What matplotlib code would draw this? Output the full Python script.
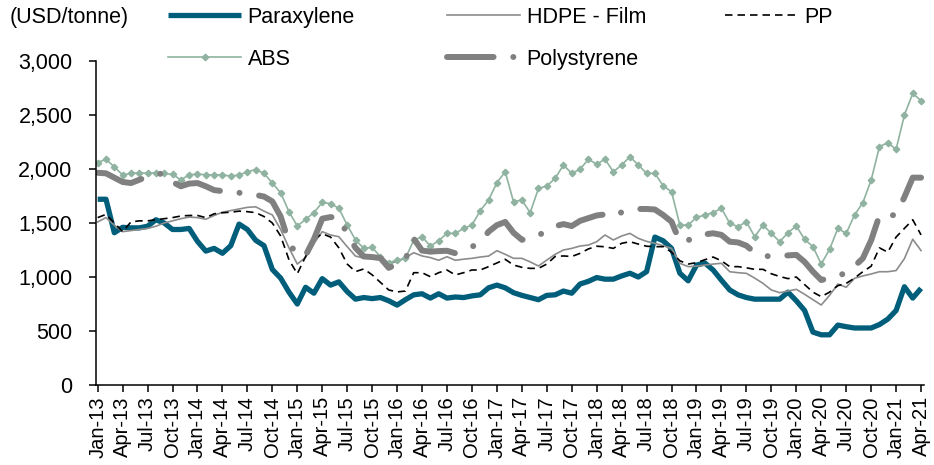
import numpy as np
import pandas as pd
import matplotlib
matplotlib.use("Agg")
from matplotlib import pyplot as plt
from matplotlib.ticker import FuncFormatter

# monthly, Jan-13 .. Apr-21
months = pd.date_range("2013-01-01", "2021-04-01", freq="MS")
month_labels = [d.strftime("%b-%y") for d in months]

paraxylene = [1720, 1720, 1410, 1460, 1455, 1455, 1470, 1530, 1500, 1440, 1440, 1450,
              1330, 1240, 1265, 1220, 1290, 1490, 1440, 1340, 1290, 1070, 990, 860,
              750, 905, 850, 985, 925, 955, 865, 795, 810, 800, 810, 780,
              740, 790, 835, 845, 805, 845, 805, 815, 810, 825, 835, 900,
              925, 900, 855, 830, 810, 790, 830, 835, 870, 850, 935, 960,
              995, 980, 980, 1010, 1035, 1000, 1050, 1370, 1335, 1265, 1035, 965,
              1110, 1130, 1065, 970, 880, 835, 810, 795, 795, 795, 795, 860,
              780, 690, 490, 465, 465, 555, 540, 528, 528, 528, 560, 610,
              690, 910, 805, 895]

hdpe = [1510, 1550, 1480, 1420, 1430, 1440, 1450, 1470, 1500, 1520, 1540, 1555,
        1550, 1535, 1570, 1600, 1615, 1630, 1645, 1650, 1610, 1575, 1440, 1270,
        1120, 1182, 1312, 1420, 1389, 1373, 1281, 1194, 1175, 1185, 1160, 1133,
        1140, 1180, 1225, 1195, 1180, 1155, 1188, 1155, 1165, 1173, 1185, 1194,
        1244, 1210, 1173, 1173, 1140, 1102, 1157, 1210, 1250, 1265, 1287, 1296,
        1327, 1389, 1343, 1380, 1404, 1358, 1330, 1312, 1290, 1265, 1127, 1096,
        1100, 1111, 1120, 1127, 1049, 1040, 1034, 990, 941, 880, 855, 870,
        886, 840, 790, 741, 830, 935, 905, 988, 1010, 1028, 1049, 1049,
        1060, 1170, 1350, 1245]

pp = [1550, 1580, 1500, 1420, 1510, 1520, 1520, 1530, 1540, 1550, 1565, 1570,
      1570, 1550, 1585, 1595, 1600, 1610, 1605, 1596, 1560, 1500, 1380, 1160,
      1030, 1190, 1350, 1400, 1370, 1270, 1120, 1050, 1075, 1020, 950, 880,
      862, 870, 1040, 1040, 1003, 1040, 1065, 1019, 1040, 1065, 1065, 1096,
      1130, 1164, 1111, 1090, 1080, 1080, 1120, 1190, 1195, 1190, 1219, 1260,
      1285, 1280, 1265, 1312, 1327, 1305, 1285, 1281, 1281, 1230, 1150, 1120,
      1133, 1160, 1185, 1150, 1096, 1096, 1085, 1071, 1071, 1030, 1005, 985,
      1000, 930, 860, 818, 860, 920, 941, 990, 1049, 1100, 1270, 1230,
      1370, 1450, 1530, 1390]

abs_ = [2060, 2090, 2020, 1945, 1960, 1965, 1960, 1965, 1960, 1950, 1900, 1945,
        1955, 1945, 1945, 1945, 1935, 1944, 1975, 1995, 1960, 1870, 1780, 1605,
        1472, 1534, 1596, 1690, 1680, 1636, 1481, 1343, 1265, 1274, 1188, 1133,
        1157, 1173, 1340, 1373, 1287, 1336, 1404, 1404, 1450, 1481, 1614, 1713,
        1873, 1975, 1697, 1713, 1596, 1820, 1843, 1913, 2037, 1960, 1997, 2090,
        2046, 2090, 1975, 2037, 2114, 2037, 1960, 1960, 1843, 1790, 1481, 1481,
        1552, 1574, 1596, 1636, 1497, 1466, 1512, 1373, 1481, 1404, 1327, 1410,
        1472, 1349, 1281, 1120, 1256, 1450, 1404, 1574, 1688, 1898, 2207, 2244,
        2182, 2500, 2700, 2633]

polystyrene = [1965, 1960, 1920, 1880, 1870, 1900, 1930, 1950, 1960, 1880, 1840, 1865,
               1870, 1840, 1805, 1795, 1785, 1780, 1770, 1760, 1745, 1700, 1560, 1320,
               1200, 1200, 1350, 1540, 1555, 1550, 1400, 1270, 1190, 1185, 1175, 1085,
               1120, 1165, 1355, 1245, 1235, 1240, 1243, 1220, 1245, 1280, 1320, 1420,
               1480, 1510, 1410, 1345, 1350, 1385, 1430, 1470, 1490, 1472, 1520, 1545,
               1570, 1580, 1560, 1600, 1620, 1630, 1630, 1625, 1574, 1512, 1327, 1340,
               1380, 1395, 1405, 1390, 1327, 1320, 1290, 1225, 1200, 1188, 1195, 1200,
               1205, 1140, 1050, 972, 990, 1010, 1040, 1100, 1173, 1340, 1570, 1560,
               1580, 1740, 1920, 1920]

plt.rcParams['font.family'] = ['Liberation Sans', 'DejaVu Sans']
FS = 15.5

x = np.arange(len(month_labels))
fig = plt.figure(figsize=(9.34, 4.65), dpi=100)
ax = fig.add_axes([0.1028, 0.172, 0.886, 0.6968])

l_para, = ax.plot(x, paraxylene, color='#005E7B', lw=3.8, solid_joinstyle='round',
                  solid_capstyle='butt', label='Paraxylene')
l_hdpe, = ax.plot(x, hdpe, color='#8C8C8C', lw=1.2, label='HDPE - Film')
l_pp, = ax.plot(x, pp, color='black', lw=1.2, ls=(0, (4.5, 3)), label='PP')
l_abs, = ax.plot(x, abs_, color='#8FB3A0', lw=1.2, marker='D', ms=3.3, label='ABS')
l_ps, = ax.plot(x, polystyrene, color='#808080', lw=4.3, ls=(0, (7.8, 3.3, 0.01, 3.3)),
                dash_capstyle='round', label='Polystyrene')

ax.set_xlim(-0.2, 99.3)
ax.set_ylim(0, 3000)
ax.set_yticks(np.arange(0, 3001, 500))
ax.yaxis.set_major_formatter(FuncFormatter(lambda v, p: f"{v:,.0f}"))
ax.set_xticks(x[::3])
ax.set_xticklabels(month_labels[::3], rotation=90)

for s in ['top', 'right']:
    ax.spines[s].set_visible(False)
for s in ['left', 'bottom']:
    ax.spines[s].set_linewidth(1.1)
ax.tick_params(axis='y', length=5, width=1.1, pad=12, labelsize=FS)
ax.tick_params(axis='x', length=5, width=1.1, pad=3, labelsize=14.5)

top = 0.985
kw = dict(loc='upper left', frameon=False, fontsize=FS, handlelength=3.4,
          handletextpad=0.3, labelspacing=0.97, borderpad=0, borderaxespad=0)
fig.legend([l_para, l_abs], ['Paraxylene', 'ABS'], bbox_to_anchor=(168 / 934, top), **kw)
fig.legend([l_hdpe, l_ps], ['HDPE - Film', 'Polystyrene'], bbox_to_anchor=(447 / 934, top), **kw)
fig.legend([l_pp], ['PP'], bbox_to_anchor=(725 / 934, top), **kw)

fig.text(10 / 934, 1 - 18 / 465, '(USD/tonne)', ha='left', va='center', fontsize=FS)

fig.set_facecolor('w')
plt.savefig("out.png", dpi=100)
